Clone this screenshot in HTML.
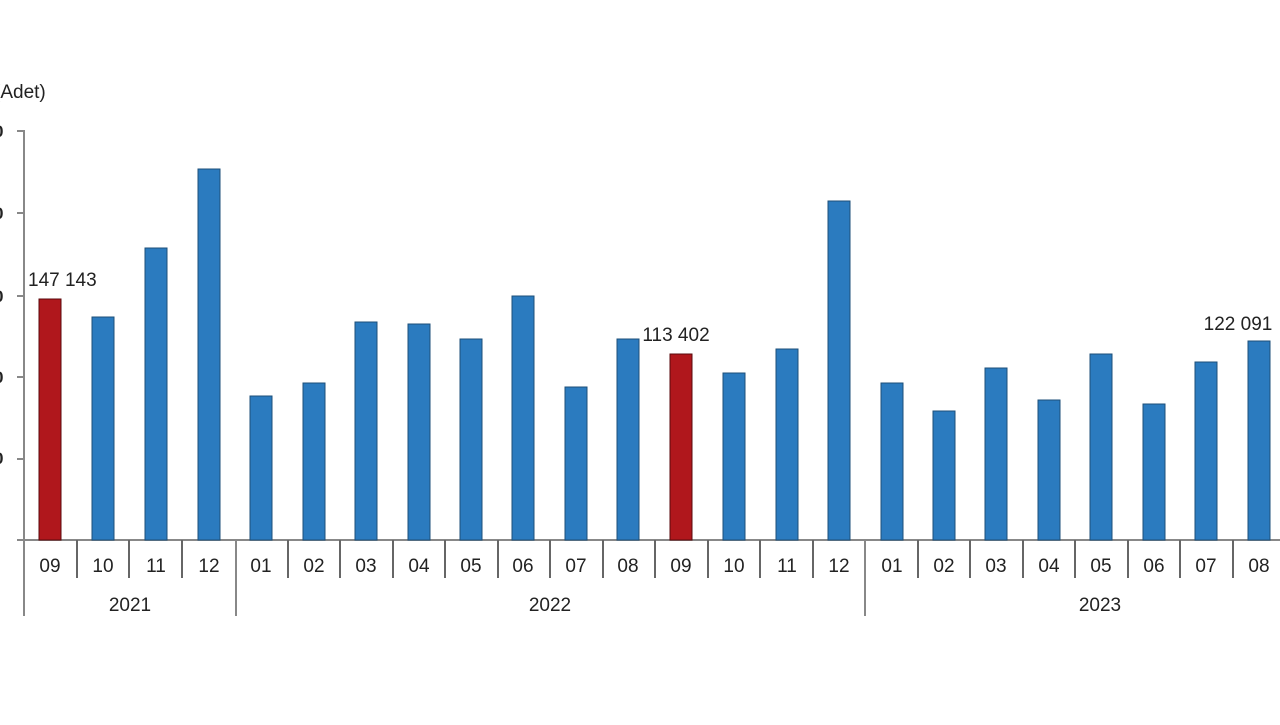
<!DOCTYPE html>
<html><head><style>
body{margin:0;background:#fff;}
svg text{font-family:"Liberation Sans",sans-serif;}
</style></head><body>
<svg width="1280" height="720" xmlns="http://www.w3.org/2000/svg">
<rect width="1280" height="720" fill="#fff"/>
<text x="-6" y="98" font-size="19" fill="#222">(Adet)</text>
<g fill="#222" font-size="17" font-weight="bold">
<text x="-6" y="137">0</text><text x="-6" y="219">0</text><text x="-6" y="302">0</text><text x="-6" y="383">0</text><text x="-6" y="464">0</text>
</g>
<g stroke="#888" stroke-width="2">
<line x1="24" y1="130" x2="24" y2="616"/>
<line x1="17" y1="131" x2="24" y2="131"/><line x1="17" y1="213" x2="24" y2="213"/><line x1="17" y1="296" x2="24" y2="296"/><line x1="17" y1="377" x2="24" y2="377"/><line x1="17" y1="459" x2="24" y2="459"/>
<line x1="17" y1="540" x2="1280" y2="540"/>
<line x1="236" y1="540" x2="236" y2="616"/>
<line x1="865" y1="540" x2="865" y2="616"/>
</g>
<g stroke="#1d4f7a" stroke-width="1" fill="#2b7bbf">
<rect x="39" y="299" width="22" height="241" fill="#b0171c" stroke="#5a0a0c"/>
<rect x="92" y="317" width="22" height="223"/>
<rect x="145" y="248" width="22" height="292"/>
<rect x="198" y="169" width="22" height="371"/>
<rect x="250" y="396" width="22" height="144"/>
<rect x="303" y="383" width="22" height="157"/>
<rect x="355" y="322" width="22" height="218"/>
<rect x="408" y="324" width="22" height="216"/>
<rect x="460" y="339" width="22" height="201"/>
<rect x="512" y="296" width="22" height="244"/>
<rect x="565" y="387" width="22" height="153"/>
<rect x="617" y="339" width="22" height="201"/>
<rect x="670" y="354" width="22" height="186" fill="#b0171c" stroke="#5a0a0c"/>
<rect x="723" y="373" width="22" height="167"/>
<rect x="776" y="349" width="22" height="191"/>
<rect x="828" y="201" width="22" height="339"/>
<rect x="881" y="383" width="22" height="157"/>
<rect x="933" y="411" width="22" height="129"/>
<rect x="985" y="368" width="22" height="172"/>
<rect x="1038" y="400" width="22" height="140"/>
<rect x="1090" y="354" width="22" height="186"/>
<rect x="1143" y="404" width="22" height="136"/>
<rect x="1195" y="362" width="22" height="178"/>
<rect x="1248" y="341" width="22" height="199"/>
</g>
<g stroke="#666" stroke-width="2">
<line x1="77" y1="540" x2="77" y2="578"/>
<line x1="129" y1="540" x2="129" y2="578"/>
<line x1="182" y1="540" x2="182" y2="578"/>
<line x1="288" y1="540" x2="288" y2="578"/>
<line x1="340" y1="540" x2="340" y2="578"/>
<line x1="393" y1="540" x2="393" y2="578"/>
<line x1="445" y1="540" x2="445" y2="578"/>
<line x1="498" y1="540" x2="498" y2="578"/>
<line x1="550" y1="540" x2="550" y2="578"/>
<line x1="603" y1="540" x2="603" y2="578"/>
<line x1="655" y1="540" x2="655" y2="578"/>
<line x1="708" y1="540" x2="708" y2="578"/>
<line x1="760" y1="540" x2="760" y2="578"/>
<line x1="813" y1="540" x2="813" y2="578"/>
<line x1="918" y1="540" x2="918" y2="578"/>
<line x1="970" y1="540" x2="970" y2="578"/>
<line x1="1023" y1="540" x2="1023" y2="578"/>
<line x1="1075" y1="540" x2="1075" y2="578"/>
<line x1="1128" y1="540" x2="1128" y2="578"/>
<line x1="1180" y1="540" x2="1180" y2="578"/>
<line x1="1233" y1="540" x2="1233" y2="578"/>
</g>
<g font-size="19" fill="#222" text-anchor="middle">
<text x="50" y="572">09</text><text x="103" y="572">10</text><text x="156" y="572">11</text><text x="209" y="572">12</text>
<text x="261" y="572">01</text><text x="314" y="572">02</text><text x="366" y="572">03</text><text x="419" y="572">04</text>
<text x="471" y="572">05</text><text x="523" y="572">06</text><text x="576" y="572">07</text><text x="628" y="572">08</text>
<text x="681" y="572">09</text><text x="734" y="572">10</text><text x="787" y="572">11</text><text x="839" y="572">12</text>
<text x="892" y="572">01</text><text x="944" y="572">02</text><text x="996" y="572">03</text><text x="1049" y="572">04</text>
<text x="1101" y="572">05</text><text x="1154" y="572">06</text><text x="1206" y="572">07</text><text x="1259" y="572">08</text>
<text x="130" y="611">2021</text><text x="550" y="611">2022</text><text x="1100" y="611">2023</text>
</g>
<g font-size="19" fill="#222">
<text x="28" y="286">147 143</text>
<text x="676" y="341" text-anchor="middle">113 402</text>
<text x="1238" y="330" text-anchor="middle">122 091</text>
</g>
</svg>
</body></html>
